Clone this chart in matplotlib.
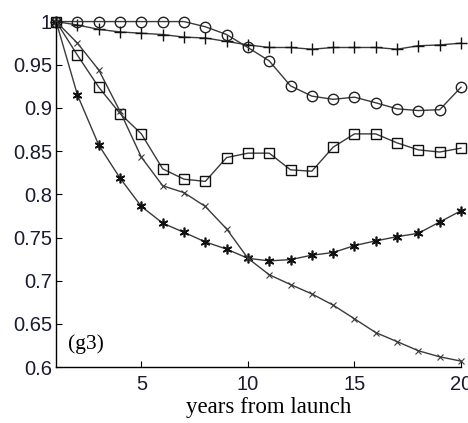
import matplotlib.pyplot as plt

years = list(range(1, 21))

plus_vals = [1.0, 0.996, 0.991, 0.988, 0.9865, 0.985, 0.982, 0.981, 0.977, 0.973,
             0.970, 0.970, 0.968, 0.970, 0.970, 0.970, 0.968, 0.972, 0.973, 0.975]
circle_vals = [1.0, 1.0, 1.0, 1.0, 1.0, 1.0, 1.0, 0.994, 0.985, 0.970,
               0.9545, 0.9256, 0.9137, 0.910, 0.9125, 0.906, 0.899, 0.897, 0.898, 0.924]
square_vals = [1.0, 0.961, 0.924, 0.8935, 0.870, 0.8295, 0.8176, 0.815, 0.8426, 0.8477,
               0.8477, 0.8284, 0.8268, 0.8546, 0.870, 0.870, 0.8596, 0.8515, 0.849, 0.8535]
star_vals = [1.0, 0.915, 0.857, 0.8187, 0.786, 0.7667, 0.756, 0.745, 0.7366, 0.726,
             0.723, 0.7245, 0.7296, 0.7327, 0.7407, 0.7462, 0.751, 0.755, 0.768, 0.781]
cross_vals = [1.0, 0.975, 0.944, 0.896, 0.843, 0.810, 0.802, 0.786, 0.760, 0.726,
              0.707, 0.6956, 0.6848, 0.6718, 0.656, 0.640, 0.6296, 0.619, 0.612, 0.607]

fig = plt.figure(figsize=(4.68, 4.23), dpi=100)
ax = fig.add_axes([0.12, 0.132, 0.865, 0.817])

lc = '#3a3a3a'
ax.plot(years, plus_vals, color=lc, lw=1, marker='+', ms=8, mew=1, mec='#111111', clip_on=False)
ax.plot(years, circle_vals, color=lc, lw=1, marker='o', ms=7.5, mfc='none', mew=1,
        mec='#222222', clip_on=False)
ax.plot(years, square_vals, color=lc, lw=1, marker='s', ms=7.5, mfc='none', mew=1,
        mec='#111111', clip_on=False)
ax.plot(years, star_vals, color=lc, lw=1, marker=(6, 2, 0), ms=7, mew=1.2,
        mec='#111111', clip_on=False)
ax.plot(years, cross_vals, color=lc, lw=1, marker='x', ms=5, mew=0.8, clip_on=False)

ax.set_xlim(1, 20)
ax.set_ylim(0.6, 1.0)
ax.set_xticks([5, 10, 15, 20])
ax.set_yticks([0.6, 0.65, 0.7, 0.75, 0.8, 0.85, 0.9, 0.95, 1.0])
ax.set_yticklabels(['0.6', '0.65', '0.7', '0.75', '0.8', '0.85', '0.9', '0.95', '1'])
ax.tick_params(direction='in', length=4, width=0.8, labelsize=14.5, colors='black')
for lab in ax.get_xticklabels() + ax.get_yticklabels():
    lab.set_family('Liberation Sans')
    lab.set_color('#1a1a33')
ax.tick_params(axis='x', pad=6)
ax.tick_params(axis='y', pad=3)

ax.spines['top'].set_visible(False)
ax.spines['right'].set_visible(False)
ax.spines['left'].set_linewidth(1)
ax.spines['bottom'].set_linewidth(1)

ax.set_xlabel('years from launch', family='Liberation Serif', fontsize=16.5, labelpad=3)
ax.xaxis.set_label_coords(0.525, -0.085)
ax.text(1.55, 0.627, '(g3)', family='Liberation Serif', fontsize=15.5, va='center')

fig.savefig('out.png', dpi=100)
